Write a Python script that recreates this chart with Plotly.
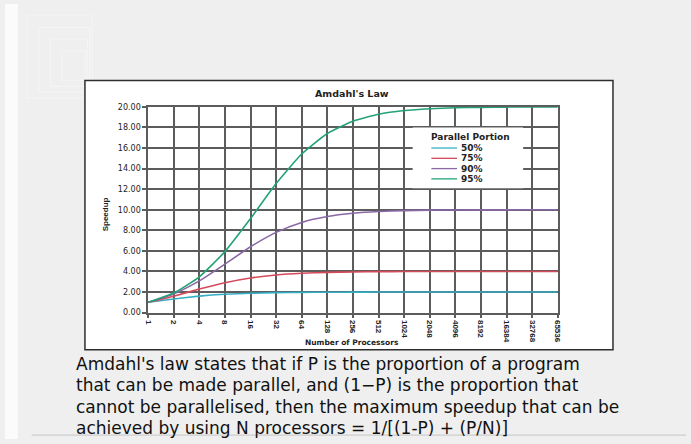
import plotly.graph_objects as go

W, H = 691, 444

# ---- data ----
processors = ["1", "2", "4", "8", "16", "32", "64", "128", "256", "512", "1024",
              "2048", "4096", "8192", "16384", "32768", "65536"]
series_names = ["50%", "75%", "90%", "95%"]
speedup_50 = [1.00, 1.33, 1.60, 1.78, 1.88, 1.94, 1.97, 1.98, 1.99, 2.00, 2.00,
              2.00, 2.00, 2.00, 2.00, 2.00, 2.00]
speedup_75 = [1.00, 1.60, 2.29, 2.91, 3.37, 3.66, 3.82, 3.91, 3.95, 3.98, 3.99,
              3.99, 4.00, 4.00, 4.00, 4.00, 4.00]
speedup_90 = [1.00, 1.82, 3.08, 4.71, 6.40, 7.80, 8.77, 9.34, 9.66, 9.83, 9.91,
              9.96, 9.98, 9.99, 9.99, 10.00, 10.00]
speedup_95 = [1.00, 1.90, 3.48, 5.93, 9.14, 12.55, 15.42, 17.41, 18.60, 19.28, 19.64,
              19.82, 19.91, 19.95, 19.98, 19.99, 19.99]
series_values = [speedup_50, speedup_75, speedup_90, speedup_95]
y_ticks = [0, 2, 4, 6, 8, 10, 12, 14, 16, 18, 20]

chart_title = "Amdahl's Law"
x_title = "Number of Processors"
y_title = "Speedup"
legend_title = "Parallel Portion"
caption_lines = [
    "Amdahl's law states that if P is the proportion of a program",
    "that can be made parallel, and (1\u2212P) is the proportion that",
    "cannot be parallelised, then the maximum speedup that can be",
    "achieved by using N processors = 1/[(1-P) + (P/N)]",
]

# ---- styles ----
colors = ["#35aec4", "#d44a5a", "#8a68a6", "#23a274"]
grid_color = "#5c5c5c"
BOLD = "DejaVu Sans"
NARROW = "Liberation Sans Narrow, Liberation Sans, Arial"


def px(x):
    return x / W


def py(y):
    return 1 - y / H


fig = go.Figure()
for name, vals, col in zip(series_names, series_values, colors):
    fig.add_trace(go.Scatter(
        x=processors, y=vals, name=name, mode="lines",
        line=dict(color=col, width=1.6, shape="spline", smoothing=0.5),
        showlegend=False, hoverinfo="x+y+name",
    ))

shapes = []
# page decorations
shapes.append(dict(type="rect", xref="paper", yref="paper", x0=0, x1=px(13), y0=0, y1=1,
                   fillcolor="#fbfbfb", line_width=0, layer="below"))
for i, s in enumerate([8, 20, 32, 44]):
    shapes.append(dict(type="rect", xref="paper", yref="paper",
                       x0=px(14 + s), x1=px(90 - s * 0.2), y0=py(100 - s * 0.5), y1=py(4 + s),
                       line=dict(color="#f4f4f4", width=1.2), fillcolor="rgba(0,0,0,0)",
                       layer="below"))
shapes.append(dict(type="line", xref="paper", yref="paper", x0=px(27), x1=px(690),
                   y0=py(440), y1=py(440), line=dict(color="#c4c4c4", width=1), layer="below"))
# white chart box
shapes.append(dict(type="rect", xref="paper", yref="paper", x0=px(81), x1=px(616),
                   y0=py(353), y1=py(78), fillcolor="white",
                   line=dict(color="#2e2e2e", width=1.5), layer="below"))
# legend box
shapes.append(dict(type="rect", xref="paper", yref="paper", x0=px(413), x1=px(525),
                   y0=py(188), y1=py(126), fillcolor="white", line_width=0, layer="above"))

annotations = []
leg_rows = [147, 157.5, 168, 178.5]
for name, col, yy in zip(series_names, colors, leg_rows):
    shapes.append(dict(type="line", xref="paper", yref="paper", x0=px(432), x1=px(458),
                       y0=py(yy), y1=py(yy), line=dict(color=col, width=1.3), layer="above"))
    annotations.append(dict(text="<b>%s</b>" % name, xref="paper", yref="paper",
                            x=px(460), y=py(yy), xanchor="left", yanchor="middle",
                            showarrow=False, font=dict(family=BOLD, size=9, color="#222")))
annotations.append(dict(text="<b>%s</b>" % legend_title, xref="paper", yref="paper",
                        x=px(472), y=py(136), xanchor="center", yanchor="middle",
                        showarrow=False, font=dict(family=BOLD, size=9, color="#222")))
annotations.append(dict(text="<b>%s</b>" % chart_title, xref="paper", yref="paper",
                        x=px(352), y=py(91), xanchor="center", yanchor="middle",
                        showarrow=False, font=dict(family=BOLD, size=9.5, color="#222")))
annotations.append(dict(text="<b>%s</b>" % x_title, xref="paper", yref="paper",
                        x=px(352), y=py(346), xanchor="center", yanchor="middle",
                        showarrow=False, font=dict(family=BOLD, size=7.5, color="#222")))
annotations.append(dict(text="<b>%s</b>" % y_title, xref="paper", yref="paper",
                        x=px(102), y=py(215), xanchor="center", yanchor="middle",
                        textangle=-90, showarrow=False,
                        font=dict(family=NARROW, size=8, color="#222")))
for i, line in enumerate(caption_lines):
    annotations.append(dict(text=line, xref="paper", yref="paper",
                            x=px(70), y=py(367 + 22 * i), xanchor="left", yanchor="middle",
                            showarrow=False, font=dict(family="DejaVu Sans", size=17, color="#111")))

fig.update_layout(
    width=W, height=H,
    margin=dict(l=0, r=0, t=0, b=0),
    paper_bgcolor="#efefef",
    plot_bgcolor="rgba(0,0,0,0)",
    shapes=shapes,
    annotations=annotations,
    showlegend=False,
    xaxis=dict(
        domain=[px(145), px(560)],
        type="category", range=[0, len(processors) - 1],
        categoryorder="array", categoryarray=processors,
        showgrid=True, gridcolor=grid_color, gridwidth=1.5,
        showline=True, linecolor=grid_color, linewidth=1.5, mirror=True,
        ticks="outside", ticklen=4, tickcolor=grid_color, tickwidth=1.5,
        tickangle=90, tickfont=dict(family=NARROW, size=8, color="#222"),
        zeroline=False,
    ),
    yaxis=dict(
        domain=[py(315), py(105)],
        range=[0, 20], tickvals=y_ticks, tickformat=".2f",
        showgrid=True, gridcolor=grid_color, gridwidth=1.5,
        showline=True, linecolor=grid_color, linewidth=1.5, mirror=True,
        ticks="outside", ticklen=4, tickcolor=grid_color, tickwidth=1.5,
        tickfont=dict(family=BOLD, size=8, color="#222"),
        zeroline=False,
    ),
)
fig.update_yaxes(tickprefix="<b>", ticksuffix="</b>")
fig.update_xaxes(tickprefix="<b>", ticksuffix="</b>")

fig.write_html(
    "out.html",
    config={"displayModeBar": False},
    post_script=("document.documentElement.style.margin='0';"
                 "document.body.style.margin='0';"
                 "document.documentElement.style.overflow='hidden';"
                 "document.body.style.overflow='hidden';"),
)
